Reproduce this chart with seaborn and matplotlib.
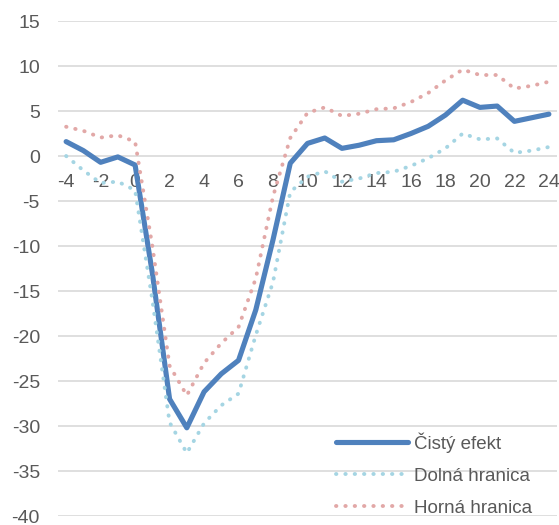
import numpy as np
import pandas as pd
import matplotlib
matplotlib.use("Agg")
import matplotlib.pyplot as plt
import seaborn as sns

# horizon (months) and the three series
horizon = [-4, -3, -2, -1, 0, 1, 2, 3, 4, 5, 6, 7, 8, 9, 10, 11, 12,
           13, 14, 15, 16, 17, 18, 19, 20, 21, 22, 23, 24]
cisty = [1.6, 0.6, -0.7, -0.1, -1.0, -13.0, -27.0, -30.2, -26.2, -24.2, -22.7,
         -17.1, -9.3, -0.8, 1.4, 2.0, 0.85, 1.2, 1.7, 1.8, 2.5, 3.3, 4.55,
         6.2, 5.4, 5.55, 3.85, 4.25, 4.65]
dolna = [0.0, -1.6, -3.0, -2.85, -3.8, -16.0, -29.6, -33.0, -29.7, -27.7, -26.4,
         -19.9, -14.0, -4.0, -2.3, -1.7, -2.85, -2.5, -1.9, -1.75, -1.1, -0.25,
         0.85, 2.5, 1.85, 1.95, 0.35, 0.6, 1.0]
horna = [3.25, 2.8, 2.05, 2.3, 1.6, -10.0, -23.3, -26.6, -23.0, -20.8, -19.0,
         -13.6, -4.5, 2.0, 4.8, 5.4, 4.45, 4.7, 5.2, 5.3, 6.0, 7.0, 8.4, 9.6,
         9.0, 9.0, 7.5, 7.8, 8.25]
labels = ["Čistý efekt", "Dolná hranica", "Horná hranica"]
xticks = [-4, -2, 0, 2, 4, 6, 8, 10, 12, 14, 16, 18, 20, 22, 24]
yticks = [-40, -35, -30, -25, -20, -15, -10, -5, 0, 5, 10, 15]

sns.set_style("white")
plt.rcParams["font.family"] = ["Liberation Sans", "DejaVu Sans"]
plt.rcParams["axes.unicode_minus"] = False

df = pd.DataFrame({"h": horizon, labels[0]: cisty, labels[1]: dolna, labels[2]: horna})

fig = plt.figure(figsize=(5.59, 5.25), dpi=100)
ax = fig.add_axes([0.1038, 0.0171, 0.8926, 0.9429])

dot = (0, (0.1, 2.3))
sns.lineplot(data=df, x="h", y=labels[0], ax=ax, color="#4F81BD", linewidth=3.7,
             label=labels[0], solid_capstyle="round")
sns.lineplot(data=df, x="h", y=labels[1], ax=ax, color="#A5D5E3", linewidth=2.8,
             linestyle=dot, dash_capstyle="round", label=labels[1])
sns.lineplot(data=df, x="h", y=labels[2], ax=ax, color="#E2A8A7", linewidth=2.8,
             linestyle=dot, dash_capstyle="round", label=labels[2])

ax.set_xlim(-4.47, 24.47)
ax.set_ylim(-40, 15)
ax.set_yticks(yticks)
ax.set_xticks(xticks)
ax.set_xlabel("")
ax.set_ylabel("")
ax.yaxis.grid(True, color="#D9D9D9", linewidth=1.2)
ax.set_axisbelow(True)
for s in ["top", "right", "left"]:
    ax.spines[s].set_visible(False)
ax.spines["bottom"].set_position(("data", 0))
ax.spines["bottom"].set_visible(False)
ax.tick_params(axis="both", length=0, labelsize=14, colors="#595959")
ax.tick_params(axis="y", pad=13)
ax.tick_params(axis="x", pad=13)

leg = ax.legend(loc="lower left", bbox_to_anchor=(0.524, -0.036), frameon=False,
                fontsize=13.5, handlelength=3.8, handletextpad=0.32, labelspacing=0.8)
for t in leg.get_texts():
    t.set_color("#595959")

fig.savefig("out.png", dpi=100)
